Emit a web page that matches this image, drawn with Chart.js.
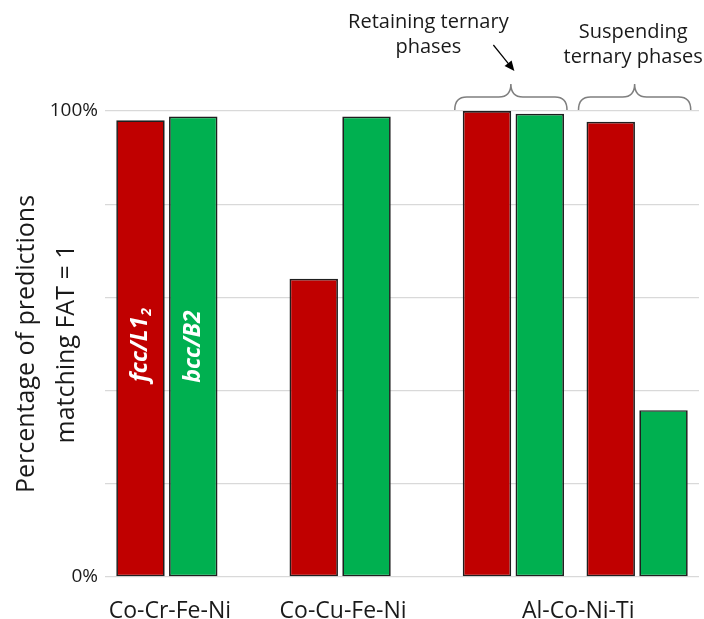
<!DOCTYPE html>
<html>
<head>
<meta charset="utf-8">
<script src="https://cdn.jsdelivr.net/npm/chart.js@4.4.1/dist/chart.umd.min.js"></script>
<style>
    html, body { margin: 0; padding: 0; background: #fff; overflow: hidden; }
    #wrap { position: relative; width: 704px; height: 619px; }
</style>
</head>
<body>
<div id="wrap"><canvas id="chart"></canvas></div>
<script>
// values (percent)
const systems = ['Co-Cr-Fe-Ni', 'Co-Cu-Fe-Ni', 'Al-Co-Ni-Ti'];
const seriesNames = ['fcc/L1', 'bcc/B2'];
const fccMatch = [98, 64, 100, 97.7];
const bccMatch = [98.8, 98.8, 99.4, 35.8];
const yTickValues = [0, 100];
const retainingNote = ['Retaining ternary', 'phases'];
const suspendingNote = ['Suspending', 'ternary phases'];

// layout: the category axis is cut into thin slots so groups can sit unevenly
const slotCount = 49;
const groupSlots = [5, 19, 33, 43];
const labelSlots = [5, 19, 38];

const red = '#c00000';
const green = '#00b050';
const textColor = '#1a1a1a';
const font = "'Open Sans', 'Noto Sans', sans-serif";

const labels = Array(slotCount).fill('');
labelSlots.forEach((slot, i) => { labels[slot] = systems[i]; });

function spread(values) {
    const out = Array(slotCount).fill(null);
    groupSlots.forEach((slot, i) => { out[slot] = values[i]; });
    return out;
}

function drawBrace(ctx, x0, x1, yEnd, yMid, yTip) {
    const xm = (x0 + x1) / 2;
    const r = 12;
    ctx.beginPath();
    ctx.moveTo(x0, yEnd);
    ctx.quadraticCurveTo(x0, yMid, x0 + r, yMid);
    ctx.lineTo(xm - r, yMid);
    ctx.quadraticCurveTo(xm, yMid, xm, yTip);
    ctx.quadraticCurveTo(xm, yMid, xm + r, yMid);
    ctx.lineTo(x1 - r, yMid);
    ctx.quadraticCurveTo(x1, yMid, x1, yEnd);
    ctx.stroke();
}

const notesPlugin = {
    id: 'notes',
    afterDatasetsDraw(chart) {
        const ctx = chart.ctx;
        const fccBars = chart.getDatasetMeta(0).data;
        const bccBars = chart.getDatasetMeta(1).data;
        const a = fccBars[groupSlots[0]];
        const b = bccBars[groupSlots[0]];

        // series names written inside the first pair of bars
        ctx.save();
        ctx.fillStyle = '#fff';
        ctx.textBaseline = 'middle';
        ctx.translate(a.x, (a.y + a.base) / 2 - 3);
        ctx.rotate(-Math.PI / 2);
        ctx.font = `italic bold 23px ${font}`;
        const w1 = ctx.measureText(seriesNames[0]).width;
        ctx.font = `italic bold 14px ${font}`;
        const w2 = ctx.measureText('2').width;
        ctx.textAlign = 'left';
        ctx.font = `italic bold 23px ${font}`;
        ctx.fillText(seriesNames[0], -(w1 + w2) / 2, 0);
        ctx.font = `italic bold 14px ${font}`;
        ctx.fillText('2', -(w1 + w2) / 2 + w1 + 1, 7);
        ctx.restore();

        ctx.save();
        ctx.fillStyle = '#fff';
        ctx.textBaseline = 'middle';
        ctx.textAlign = 'center';
        ctx.translate(b.x, (b.y + b.base) / 2);
        ctx.rotate(-Math.PI / 2);
        ctx.font = `italic bold 23px ${font}`;
        ctx.fillText(seriesNames[1], 0, 0);
        ctx.restore();

        // braces over the two Al-Co-Ni-Ti groups
        const top = chart.chartArea.top;
        ctx.save();
        ctx.strokeStyle = '#7f7f7f';
        ctx.lineWidth = 1.5;
        [2, 3].forEach((g) => {
            const l = fccBars[groupSlots[g]];
            const r = bccBars[groupSlots[g]];
            drawBrace(ctx, l.x - l.width / 2 - 8, r.x + r.width / 2 + 3, top - 1, top - 14, top - 27);
        });
        ctx.restore();

        // text notes
        const g3 = (fccBars[groupSlots[2]].x + bccBars[groupSlots[2]].x) / 2;
        const g4 = (fccBars[groupSlots[3]].x + bccBars[groupSlots[3]].x) / 2;
        ctx.save();
        ctx.fillStyle = textColor;
        ctx.font = `20px ${font}`;
        ctx.textAlign = 'center';
        ctx.textBaseline = 'alphabetic';
        retainingNote.forEach((line, i) => ctx.fillText(line, g3 - 85, 28 + i * 25));
        suspendingNote.forEach((line, i) => ctx.fillText(line, g4 - 4, 38 + i * 25));

        // arrow towards the first brace
        const x0 = g3 - 20, y0 = 45, x1 = g3 + 1, y1 = 71;
        const ang = Math.atan2(y1 - y0, x1 - x0);
        ctx.strokeStyle = '#000';
        ctx.lineWidth = 1.2;
        ctx.beginPath();
        ctx.moveTo(x0, y0);
        ctx.lineTo(x1 - 6 * Math.cos(ang), y1 - 6 * Math.sin(ang));
        ctx.stroke();
        ctx.fillStyle = '#000';
        ctx.beginPath();
        ctx.moveTo(x1, y1);
        ctx.lineTo(x1 - 10 * Math.cos(ang) + 4.5 * Math.sin(ang), y1 - 10 * Math.sin(ang) - 4.5 * Math.cos(ang));
        ctx.lineTo(x1 - 10 * Math.cos(ang) - 4.5 * Math.sin(ang), y1 - 10 * Math.sin(ang) + 4.5 * Math.cos(ang));
        ctx.closePath();
        ctx.fill();
        ctx.restore();
    },
};

new Chart(document.getElementById('chart'), {
    type: 'bar',
    data: {
        labels: labels,
        datasets: [
            { label: seriesNames[0], data: spread(fccMatch), backgroundColor: red },
            { label: seriesNames[1], data: spread(bccMatch), backgroundColor: green },
        ],
    },
    options: {
        responsive: true,
        maintainAspectRatio: false,
        animation: false,
        layout: { padding: { top: 111, right: 5, bottom: 0, left: 0 } },
        datasets: {
            bar: {
                borderColor: '#1f1f1f',
                borderWidth: 1.7,
                borderSkipped: false,
                categoryPercentage: 8.53,
                barPercentage: 0.918,
            },
        },
        plugins: {
            legend: { display: false },
            tooltip: { enabled: false },
        },
        scales: {
            x: {
                offset: false,
                grid: { display: false },
                border: { display: false },
                afterFit: (scale) => { scale.height = 42; },
                ticks: {
                    autoSkip: false,
                    maxRotation: 0,
                    minRotation: 0,
                    padding: 0,
                    labelOffset: 3,
                    color: textColor,
                    font: { family: font, size: 23, lineHeight: 2.3 },
                },
            },
            y: {
                min: 0,
                max: 100,
                border: { display: false },
                grid: { color: '#d9d9d9', lineWidth: 1.3, drawTicks: false },
                afterFit: (scale) => { scale.width = 105; },
                ticks: {
                    stepSize: 20,
                    padding: 7,
                    color: textColor,
                    font: { family: font, size: 19 },
                    callback: (v) => (yTickValues.includes(v) ? v + '%' : ''),
                },
                title: {
                    display: true,
                    text: ['Percentage of predictions', 'matching FAT = 1'],
                    color: textColor,
                    padding: { top: 7, bottom: 0 },
                    font: { family: font, size: 25, lineHeight: 1.6 },
                },
            },
        },
    },
    plugins: [notesPlugin],
});
</script>
</body>
</html>
